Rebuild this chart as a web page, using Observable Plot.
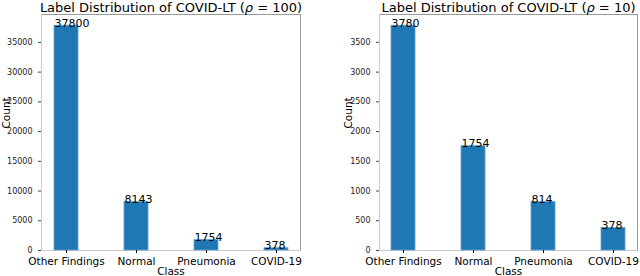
<!DOCTYPE html>
<html>
<head>
<meta charset="utf-8">
<script src="https://cdn.jsdelivr.net/npm/d3@7"></script>
<script src="https://cdn.jsdelivr.net/npm/@observablehq/plot@0.6"></script>
<style>
  html, body { margin: 0; padding: 0; background: #fff; }
  #wrap { display: flex; width: 640px; height: 276px; }
  svg { font-family: "DejaVu Sans", sans-serif; }
</style>
</head>
<body>
<div id="wrap"></div>
<script>
const classes = ["Other Findings", "Normal", "Pneumonia", "COVID-19"];
const counts100 = [37800, 8143, 1754, 378];
const counts10 = [3780, 1754, 814, 378];
const ticks100 = [0, 5000, 10000, 15000, 20000, 25000, 30000, 35000];
const ticks10 = [0, 500, 1000, 1500, 2000, 2500, 3000, 3500];
const titles = ["Label Distribution of COVID-LT (\u03C1 = 100)", "Label Distribution of COVID-LT (\u03C1 = 10)"];

function panel(values, ticks, title, marginLeft, marginRight, labelOff) {
  const data = classes.map((c, i) => ({cls: c, n: values[i]}));
  const ymax = d3.max(values) * 1.05;
  const svg = Plot.plot({
    width: 320,
    height: 276,
    marginLeft, marginRight,
    marginTop: 14,
    marginBottom: 26,
    style: {fontFamily: "DejaVu Sans, sans-serif", background: "#fff"},
    x: {domain: classes, paddingInner: 0.66, paddingOuter: 0.167, label: null},
    y: {domain: [0, ymax], label: null},
    marks: [
      Plot.frame({anchor: "top", stroke: "#999"}),
      Plot.frame({anchor: "right", stroke: "#999"}),
      Plot.frame({anchor: "left", stroke: "#ccc"}),
      Plot.frame({anchor: "bottom", stroke: "#ccc"}),
      Plot.barY(data, {x: "cls", y: "n", fill: "#1f77b4", stroke: "#5fa2d4", strokeWidth: 0.8}),
      Plot.text(data, {x: "cls", y: "n", text: d => String(d.n), textAnchor: "start", lineAnchor: "bottom", dx: -12, dy: 1, fontSize: 11, fill: "#000"}),
      Plot.axisY({ticks, tickFormat: d => String(d), tickSize: 3, fontSize: 8, label: null, stroke: "#444", color: "#222"}),
      Plot.axisX({tickSize: 3, fontSize: 10.5, label: null, tickPadding: 4, color: "#000"}),
      Plot.text(["Class"], {frameAnchor: "bottom", dy: 24, lineAnchor: "bottom", fontSize: 10.5, fill: "#000"}),
      Plot.text(["Count"], {frameAnchor: "left", rotate: -90, dx: -labelOff, dy: -4, fontSize: 10.5, fill: "#000"}),
      Plot.text([title], {frameAnchor: "top", dy: -3, lineAnchor: "bottom", fontSize: 13, fill: "#000"})
    ]
  });
  // italicize the math symbol rho in the title
  d3.select(svg).selectAll("text").each(function() {
    const t = this.textContent;
    if (t.includes("\u03C1") && this.childElementCount === 0) {
      const i = t.indexOf("\u03C1");
      const sel = d3.select(this);
      sel.text(null);
      sel.append("tspan").text(t.slice(0, i));
      sel.append("tspan").attr("font-style", "italic").text("\u03C1");
      sel.append("tspan").text(t.slice(i + 1));
    }
  });
  return svg;
}

const wrap = document.getElementById("wrap");
wrap.appendChild(panel(counts100, ticks100, titles[0], 41, 20, 35));
wrap.appendChild(panel(counts10, ticks10, titles[1], 59, 3, 31));
</script>
</body>
</html>
